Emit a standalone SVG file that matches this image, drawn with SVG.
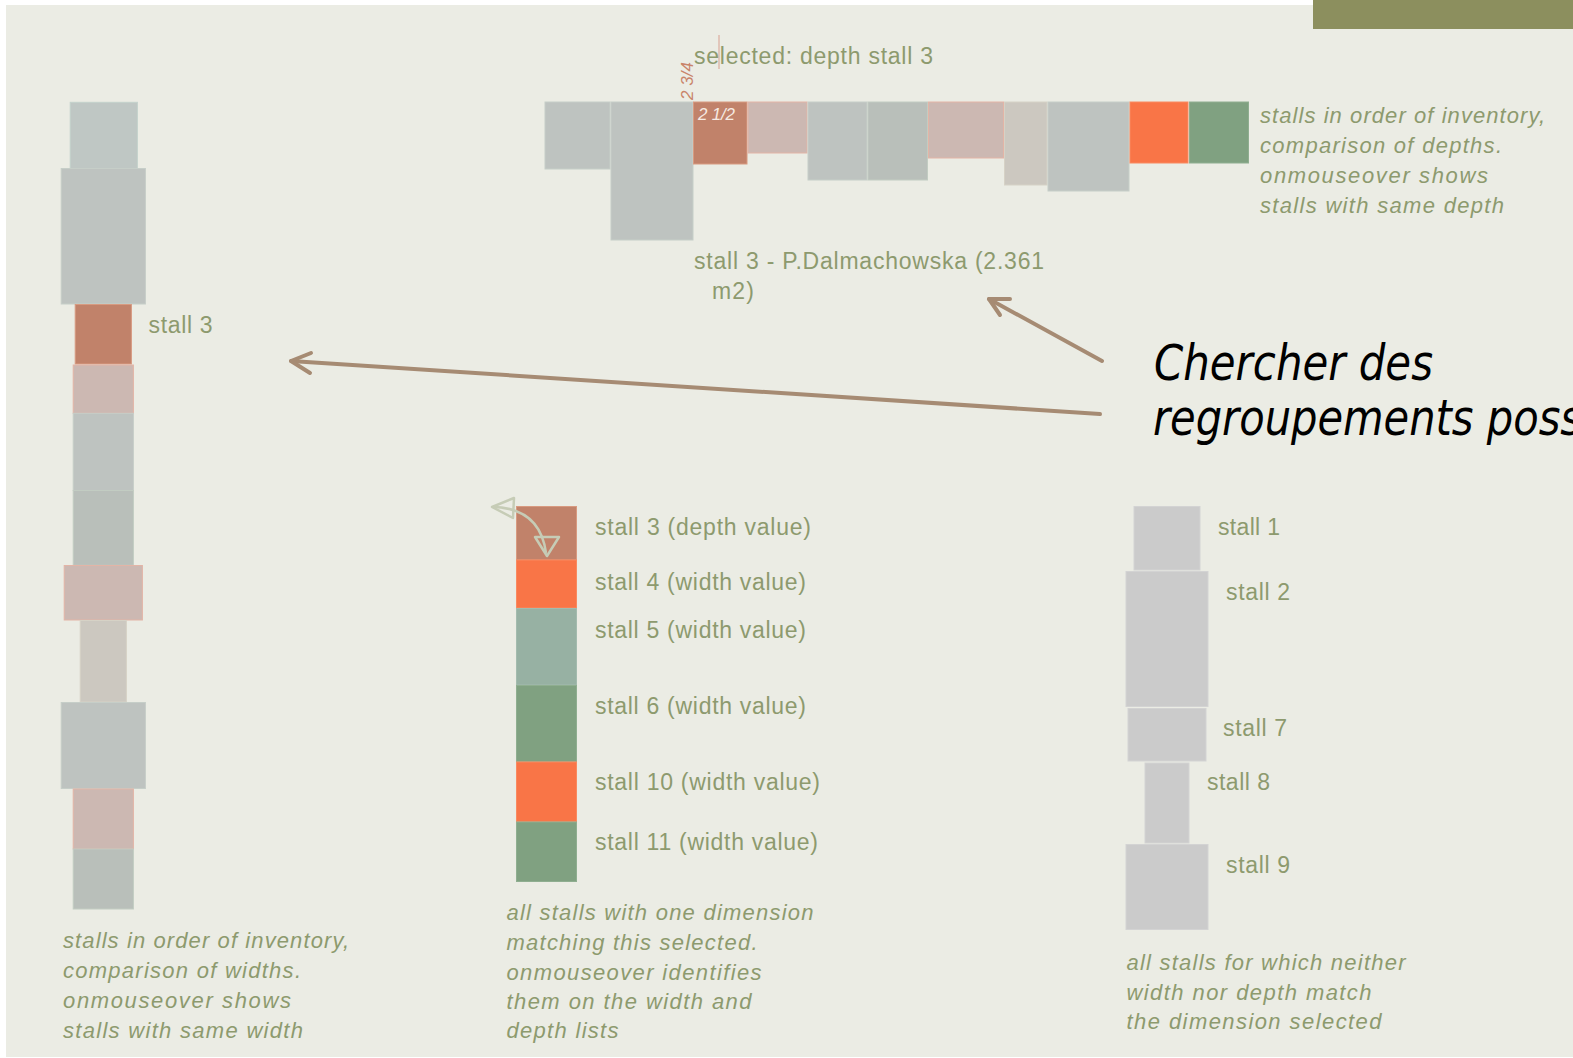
<svg xmlns="http://www.w3.org/2000/svg" width="1573" height="1058" viewBox="0 0 1573 1058">
<defs>
<style>
.lbl{font-family:"Liberation Sans",Arial,sans-serif;font-size:23px;fill:#8D9A6E}
.cap{font-family:"Liberation Sans",Arial,sans-serif;font-size:22px;font-style:italic;fill:#8D9A6E}
.big{font-family:"DejaVu Sans",Verdana,sans-serif;font-size:49px;font-style:italic;fill:#000}
.g{fill:#BEC3C0;stroke:#C6CEC8;stroke-width:1}
.gb{fill:#BFC7C4;stroke:#C4D2CC;stroke-width:1}
.gg{fill:#B9BFBA;stroke:#C2CCC2;stroke-width:1}
.br{fill:#C1826A;stroke:#D89A80;stroke-width:1}
.pk{fill:#CCB8B2;stroke:#E3B4A6;stroke-width:1}
.lt{fill:#CCC8C0;stroke:#D6D2C6;stroke-width:1}
.or{fill:#F97547;stroke:#F98A60;stroke-width:1}
.gr{fill:#80A181;stroke:#8FAE90;stroke-width:1}
.te{fill:#97B1A3;stroke:#A3BBAE;stroke-width:1}
.rg{fill:#CBCBCB;stroke:#D3D3D3;stroke-width:1}
.arr{fill:none;stroke:#A68B73;stroke-width:4;stroke-linecap:round;stroke-linejoin:round}
.curl{fill:none;stroke:#C6CCB6;stroke-width:2.5;stroke-linejoin:round}
</style>
</defs>
<rect x="0" y="0" width="1573" height="1058" fill="#FFFFFF"/>
<rect x="6" y="5" width="1567" height="1052" fill="#EBECE4"/>
<rect x="1313" y="0" width="260" height="29" fill="#8C8F5E"/>

<g id="depth-chart">
<rect class="g" x="545" y="102" width="65" height="67"/>
<rect class="g" x="611" y="102" width="82" height="138"/>
<rect class="br" x="693.5" y="102" width="53.5" height="62"/>
<rect class="pk" x="748" y="102" width="59" height="51"/>
<rect class="g" x="808" y="102" width="59" height="78"/>
<rect class="gg" x="868" y="102" width="59.5" height="78"/>
<rect class="pk" x="928.5" y="102" width="75" height="56"/>
<rect class="lt" x="1004.5" y="102" width="42.5" height="83"/>
<rect class="g" x="1048" y="102" width="81" height="89"/>
<rect class="or" x="1130" y="102" width="58" height="61"/>
<rect class="gr" x="1189.5" y="102" width="59" height="61"/>
<line x1="719" y1="35" x2="719" y2="69" stroke="#D8A090" stroke-width="1"/>
<text class="lbl" x="694" y="64" textLength="239" lengthAdjust="spacing">selected: depth stall 3</text>
<text x="0" y="0" transform="translate(693,100) rotate(-90)" font-family="'Liberation Sans',Arial,sans-serif" font-size="17" font-style="italic" fill="#C9846A" textLength="38" lengthAdjust="spacing">2 3/4</text>
<text x="698" y="120" font-family="'Liberation Sans',Arial,sans-serif" font-size="17" font-style="italic" fill="#F6EAE2" textLength="37" lengthAdjust="spacing">2 1/2</text>
<text class="lbl" x="694" y="269" textLength="350" lengthAdjust="spacing">stall 3 - P.Dalmachowska (2.361</text>
<text class="lbl" x="712" y="299" textLength="42" lengthAdjust="spacing">m2)</text>
<text class="cap" x="1260" y="123" textLength="285" lengthAdjust="spacing">stalls in order of inventory,</text>
<text class="cap" x="1260" y="153" textLength="242" lengthAdjust="spacing">comparison of depths.</text>
<text class="cap" x="1260" y="183" textLength="228" lengthAdjust="spacing">onmouseover shows</text>
<text class="cap" x="1260" y="213" textLength="244" lengthAdjust="spacing">stalls with same depth</text>
</g>

<g id="width-chart">
<rect class="gb" x="70.2" y="102.3" width="67.2" height="66.2"/>
<rect class="g" x="61.2" y="168.5" width="84.2" height="135.5"/>
<rect class="br" x="75.2" y="304.5" width="56.2" height="59.5"/>
<rect class="pk" x="73.2" y="365" width="60.2" height="48.3"/>
<rect class="g" x="73.2" y="413.3" width="60.2" height="77.2"/>
<rect class="gg" x="73.2" y="490.5" width="60.2" height="74.8"/>
<rect class="pk" x="64.2" y="565.5" width="78.2" height="54.5"/>
<rect class="lt" x="80.2" y="620.5" width="46.2" height="81.5"/>
<rect class="g" x="61.2" y="702.5" width="84.2" height="86"/>
<rect class="pk" x="73.2" y="789" width="60.2" height="60"/>
<rect class="gg" x="73.2" y="849" width="60.2" height="60"/>
<text class="lbl" x="148.5" y="333" textLength="64" lengthAdjust="spacing">stall 3</text>
<text class="cap" x="63" y="948" textLength="286" lengthAdjust="spacing">stalls in order of inventory,</text>
<text class="cap" x="63" y="978" textLength="238" lengthAdjust="spacing">comparison of widths.</text>
<text class="cap" x="63" y="1008" textLength="228" lengthAdjust="spacing">onmouseover shows</text>
<text class="cap" x="63" y="1038" textLength="240" lengthAdjust="spacing">stalls with same width</text>
</g>

<g id="matching-list">
<rect class="br" x="516.5" y="506.5" width="60" height="53.5"/>
<rect class="or" x="516.5" y="560" width="60" height="48"/>
<rect class="te" x="516.5" y="608.5" width="60" height="76.5"/>
<rect class="gr" x="516.5" y="685.5" width="60" height="76"/>
<rect class="or" x="516.5" y="762" width="60" height="59.5"/>
<rect class="gr" x="516.5" y="822" width="60" height="59.5"/>
<text class="lbl" x="595" y="535" textLength="216" lengthAdjust="spacing">stall 3 (depth value)</text>
<text class="lbl" x="595" y="590" textLength="211" lengthAdjust="spacing">stall 4 (width value)</text>
<text class="lbl" x="595" y="638" textLength="211" lengthAdjust="spacing">stall 5 (width value)</text>
<text class="lbl" x="595" y="714" textLength="211" lengthAdjust="spacing">stall 6 (width value)</text>
<text class="lbl" x="595" y="790" textLength="225" lengthAdjust="spacing">stall 10 (width value)</text>
<text class="lbl" x="595" y="850" textLength="223" lengthAdjust="spacing">stall 11 (width value)</text>
<text class="cap" x="506.5" y="920" textLength="307" lengthAdjust="spacing">all stalls with one dimension</text>
<text class="cap" x="506.5" y="950" textLength="251" lengthAdjust="spacing">matching this selected.</text>
<text class="cap" x="506.5" y="980" textLength="255" lengthAdjust="spacing">onmouseover identifies</text>
<text class="cap" x="506.5" y="1009" textLength="245" lengthAdjust="spacing">them on the width and</text>
<text class="cap" x="506.5" y="1038" textLength="112" lengthAdjust="spacing">depth lists</text>
</g>

<g id="non-matching-list">
<rect class="rg" x="1134" y="506.5" width="66" height="63.5"/>
<rect class="rg" x="1126" y="571.5" width="82" height="135"/>
<rect class="rg" x="1128" y="708.5" width="78" height="52.5"/>
<rect class="rg" x="1145" y="763" width="44" height="80"/>
<rect class="rg" x="1126" y="844.5" width="82" height="85"/>
<text class="lbl" x="1218" y="535" textLength="62" lengthAdjust="spacing">stall 1</text>
<text class="lbl" x="1226" y="600" textLength="64" lengthAdjust="spacing">stall 2</text>
<text class="lbl" x="1223" y="736" textLength="64" lengthAdjust="spacing">stall 7</text>
<text class="lbl" x="1207" y="790" textLength="63" lengthAdjust="spacing">stall 8</text>
<text class="lbl" x="1226" y="873" textLength="64" lengthAdjust="spacing">stall 9</text>
<text class="cap" x="1126.5" y="970" textLength="279" lengthAdjust="spacing">all stalls for which neither</text>
<text class="cap" x="1126.5" y="1000" textLength="245" lengthAdjust="spacing">width nor depth match</text>
<text class="cap" x="1126.5" y="1029" textLength="255" lengthAdjust="spacing">the dimension selected</text>
</g>

<g id="callout">
<text class="big" x="1154" y="380" textLength="279" lengthAdjust="spacingAndGlyphs">Chercher des</text>
<text class="big" x="1153" y="435" textLength="429" lengthAdjust="spacingAndGlyphs">regroupements poss</text>
</g>

<g id="connectors">
<line class="arr" x1="1100" y1="414" x2="291" y2="361"/>
<polyline class="arr" points="311,353 291,361 310,373"/>
<line class="arr" x1="1102" y1="361" x2="989" y2="299"/>
<polyline class="arr" points="1010,299 989,299 1000,315"/>
<path class="curl" d="M493,507 Q540,508 546,553"/>
<polygon class="curl" points="492,507 514,498 513,518"/>
<polygon class="curl" points="535,537 559,537 547,556"/>
</g>
</svg>
